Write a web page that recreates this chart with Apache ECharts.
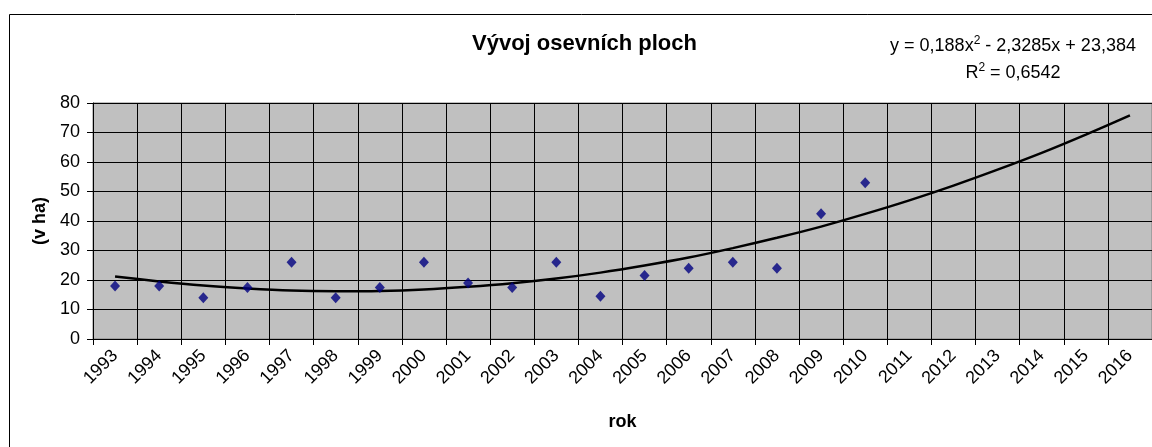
<!DOCTYPE html>
<html>
<head>
<meta charset="utf-8">
<script src="https://cdn.jsdelivr.net/npm/echarts@6/dist/echarts.min.js"></script>
<style>
  html, body { margin: 0; padding: 0; background: #fff; }
  #chart { width: 1152px; height: 447px; }
</style>
</head>
<body>
<div id="chart"></div>
<script>
  // roky na ose x
  const years = ['1993', '1994', '1995', '1996', '1997', '1998', '1999', '2000', '2001', '2002', '2003', '2004',
    '2005', '2006', '2007', '2008', '2009', '2010', '2011', '2012', '2013', '2014', '2015', '2016']
  // osevni plochy (v ha)
  const plochy = [18, 18, 14, 17.5, 26, 14, 17.5, 26, 19, 17.5, 26, 14.5, 21.5, 24, 26, 24, 42.5, 53]
  // polynomicky trend 2. radu (hodnoty podle rovnice v grafu)
  const trend = [21.2, 19.5, 18.1, 17.1, 16.4, 16.2, 16.3, 16.8, 17.7, 18.9, 20.5, 22.5,
    24.9, 27.6, 30.8, 34.3, 38.1, 42.4, 47.0, 52.0, 57.4, 63.1, 69.3, 75.8]
  const yTicks = { min: 0, max: 80, interval: 10 }

  const font = 'Liberation Sans, Arial, sans-serif'
  const chart = echarts.init(document.getElementById('chart'))

  const supStyle = { fontSize: 12, verticalAlign: 'top', padding: [0, 0, 10, 0], fontFamily: font }

  const option = {
    animation: false,
    textStyle: { fontFamily: font },
    graphic: [
      {
        type: 'rect',
        shape: { x: 9.5, y: 14.5, width: 1300, height: 600 },
        style: { fill: 'none', stroke: '#000', lineWidth: 1 },
        silent: true
      },
      {
        type: 'text',
        left: 587 - 115,
        top: 33,
        style: { text: 'Vývoj osevních ploch', font: 'bold 22px ' + font, fill: '#000' }
      },
      {
        type: 'text',
        x: 1013,
        y: 46,
        style: {
          text: 'y = 0,188x{sup|2} - 2,3285x + 23,384',
          align: 'center',
          verticalAlign: 'middle',
          font: '18px ' + font,
          fill: '#000',
          rich: { sup: supStyle }
        }
      },
      {
        type: 'text',
        x: 1013,
        y: 73,
        style: {
          text: 'R{sup|2} = 0,6542',
          align: 'center',
          verticalAlign: 'middle',
          font: '18px ' + font,
          fill: '#000',
          rich: { sup: supStyle }
        }
      }
    ],
    grid: {
      left: 93,
      top: 103,
      right: 0,
      bottom: 108,
      show: true,
      backgroundColor: '#c0c0c0',
      borderColor: '#808080',
      borderWidth: 1,
      containLabel: false,
      outerBoundsMode: 'none'
    },
    xAxis: {
      type: 'category',
      data: years,
      boundaryGap: true,
      name: 'rok',
      nameLocation: 'middle',
      nameGap: 74,
      nameTextStyle: { fontSize: 18, fontWeight: 'bold', color: '#000', fontFamily: font },
      axisLine: { lineStyle: { color: '#000', width: 1 } },
      axisTick: { show: true, interval: 0, length: 6, lineStyle: { color: '#000' } },
      axisLabel: { interval: 0, rotate: 45, margin: 14, fontSize: 18, color: '#000', fontFamily: font },
      splitLine: { show: true, interval: 0, lineStyle: { color: '#000', width: 1 } }
    },
    yAxis: {
      type: 'value',
      min: yTicks.min,
      max: yTicks.max,
      interval: yTicks.interval,
      name: '(v ha)',
      nameLocation: 'middle',
      nameGap: 43,
      nameRotate: 90,
      nameTextStyle: { fontSize: 18, fontWeight: 'bold', color: '#000', fontFamily: font },
      axisLine: { show: true, lineStyle: { color: '#000', width: 1 } },
      axisTick: { show: true, length: 6, lineStyle: { color: '#000' } },
      axisLabel: { margin: 13, fontSize: 18, color: '#000', fontFamily: font },
      splitLine: { show: true, lineStyle: { color: '#000', width: 1 } }
    },
    series: [
      {
        name: 'trend',
        type: 'line',
        data: trend,
        smooth: 0.3,
        symbol: 'none',
        lineStyle: { color: '#000', width: 2.5 },
        z: 3
      },
      {
        name: 'plochy',
        type: 'scatter',
        data: plochy,
        symbol: 'diamond',
        symbolSize: [10, 11],
        itemStyle: { color: '#000080' },
        z: 4
      }
    ]
  }

  chart.setOption(option)
</script>
</body>
</html>
